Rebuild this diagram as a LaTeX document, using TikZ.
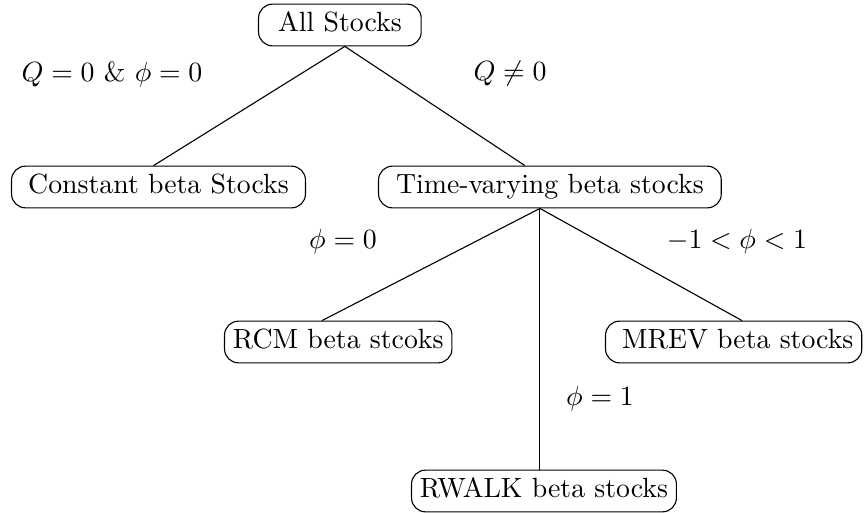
\documentclass[tikz,border=0pt]{standalone}
\usetikzlibrary{calc}
\begin{document}
\begin{tikzpicture}[x=0.3597pt,y=-0.3597pt,
  box/.style={draw, rounded corners=5pt, inner ysep=3pt, text height=7pt, text depth=2pt, anchor=west},
  lab/.style={inner sep=0pt},
  conn/.style={line width=0.4pt}]
\useasboundingbox (0,0) rectangle (864,512);
\node[box, inner xsep=7pt] (all) at (258,25) {All Stocks};
\node[box, inner xsep=6pt] (const) at (11,187) {Constant beta Stocks};
\node[box, inner xsep=6.3pt] (tv) at (378,187) {Time-varying beta stocks};
\node[box, inner xsep=3pt] (rcm) at (224,342) {RCM beta stcoks};
\node[box, inner xsep=3pt] (mrev) at (605,342) {\hspace{3pt}MREV beta stocks};
\node[box, inner xsep=3pt] (rwalk) at (411,491) {RWALK beta stocks\ };

\node[lab] (l1) at (112,74) {$Q=0$ \& $\phi=0$};
\node[lab] (l2) at (510,74) {$Q\neq 0$};
\node[lab] (l3) at (343,242) {$\phi=0$};
\node[lab] (l4) at (737,242) {$-1<\phi<1$};
\node[lab] (l5) at (600,399) {$\phi=1$};

\coordinate (apex1) at ($(all.south)+(5,0)$);
\coordinate (apex2) at ($(tv.south)+(-10,0)$);
\draw[conn] (apex1) -- ($(const.north)+(-5,0)$);
\draw[conn] (apex1) -- ($(tv.north)+(-25,0)$);
\draw[conn] (apex2) -- (322,0 |- rcm.north);
\draw[conn] (apex2) -- (742,0 |- mrev.north);
\draw[conn] (apex2) -- (apex2 |- rwalk.north);
\end{tikzpicture}
\end{document}
